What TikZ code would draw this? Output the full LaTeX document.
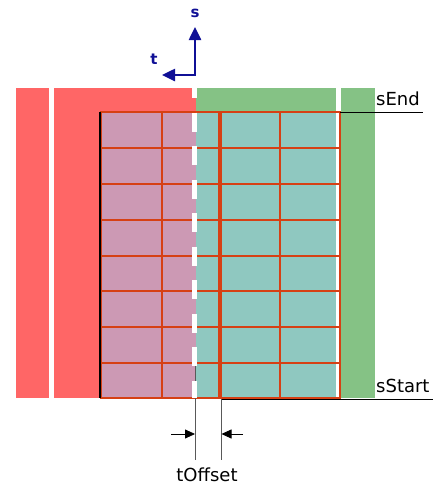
\documentclass[tikz,border=0pt]{standalone}
\usepackage{fontspec}
\setmainfont{DejaVu Sans}
\usetikzlibrary{arrows.meta,positioning}
\definecolor{zonered}{RGB}{255,102,102}
\definecolor{zonegreen}{RGB}{133,194,133}
\definecolor{cellpink}{RGB}{204,153,180}
\definecolor{cellteal}{RGB}{143,200,192}
\definecolor{gridred}{RGB}{214,64,20}
\definecolor{axisblue}{RGB}{16,16,150}

\begin{document}
\begin{tikzpicture}[
    x=1pt, y=-1pt,
    label/.style={
        font=\fontsize{18}{20}\selectfont,
        inner sep=0pt
    },
    axislabel/.style={
        font=\bfseries\fontsize{15}{16}\selectfont,
        text=axisblue,
        inner sep=0pt
    },
    axis/.style={
        draw=axisblue,
        line width=2.5pt,
        {Triangle[length=13pt,width=12pt]}-{Triangle[length=13pt,width=12pt]}
    },
    gridline/.style={
        draw=gridred,
        line width=1.3pt
    },
    extline/.style={
        draw=black!65,
        line width=1pt
    },
    dimarrow/.style={
        draw=black,
        line width=0.8pt,
        -{Triangle[length=10pt,width=9pt]}
    }
]
\useasboundingbox (0,0) rectangle (435,485);

% zones
\fill[zonered] (16,88) rectangle (49,398);
\fill[zonered] (54,88) rectangle (196,398);
\fill[zonegreen] (196,88) rectangle (336,398);
\fill[zonegreen] (341,88) rectangle (375,398);

% cells
\fill[cellpink] (100,112) rectangle (196,398);
\fill[cellteal] (196,112) rectangle (336,398);
\foreach \y in {112,148,184,220,256,291,327,363,398}
    \draw[gridline] (100,\y) -- (340.5,\y);
\foreach \x in {101.5,162,280,340}
    \draw[gridline] (\x,112) -- (\x,398);
\draw[black, line width=1.5pt] (100,112) -- (100,398);
\draw[gridred, line width=4.5pt] (220,112) -- (220,398);

% offset extension lines
\coordinate (offLeftTop) at (195,366);
\coordinate (offLeftBot) at (195,460);
\coordinate (offRightTop) at (221.5,399);
\coordinate (offRightBot) at (221.5,460);
\draw[extline] (offLeftTop) -- (offLeftBot);
\draw[extline] (offRightTop) -- (offRightBot);

% zone border
\draw[white, line width=4.5pt, dash pattern=on 19pt off 14.5pt, dash phase=8pt]
    (194.5,87) -- (194.5,398);

% s limits
\coordinate (endLeft) at (340,112);
\coordinate (endRight) at (423,112);
\coordinate (startRight) at (433,399);
\draw[black, line width=0.8pt] (endLeft) -- (endRight);
\draw[black, line width=0.8pt] (offRightTop) -- (startRight);
\node[label, anchor=base west] (sEnd) at (376,105) {sEnd};
\node[label, anchor=base west] (sStart) at (376,392) {sStart};

% tOffset
\coordinate (dimLeft) at (171,434);
\coordinate (dimRight) at (243,434);
\draw[dimarrow] (dimLeft) -- (offLeftBot |- dimLeft);
\draw[dimarrow] (dimRight) -- (offRightBot |- dimRight);
\node[label] (tOffset) at (207,475) {tOffset};

% axes
\coordinate (origin) at (195,75);
\coordinate (sTip) at (195,27);
\coordinate (tTip) at (162,75);
\draw[axis] (tTip) -- (origin) -- (sTip);
\node[axislabel] (s) at (195,13) {s};
\node[axislabel] (t) at (154,59) {t};

\end{tikzpicture}
\end{document}
